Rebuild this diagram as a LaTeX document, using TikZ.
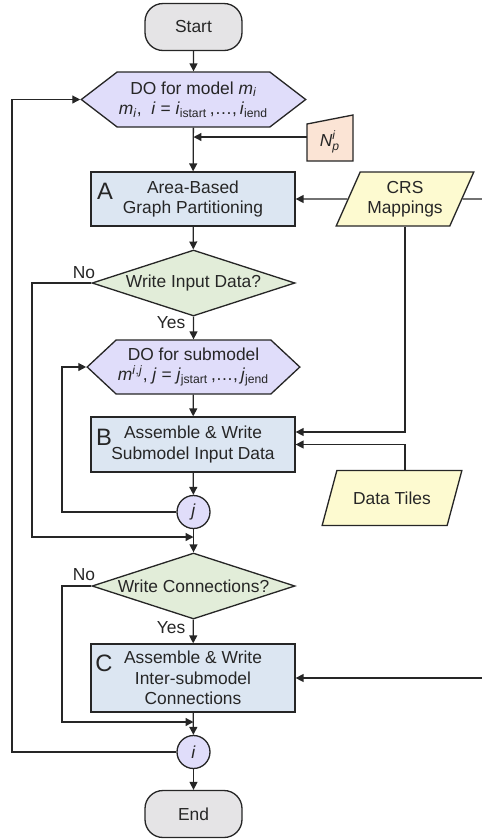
\documentclass[tikz,border=0pt]{standalone}
\usepackage{amsmath}
\usepackage{fontspec}
\setmainfont{Liberation Sans}
\usepackage{tikz}
\usetikzlibrary{positioning,calc}
\usetikzlibrary{arrows.meta,shapes.geometric,shapes.misc,shapes.symbols}

\definecolor{termgray}{RGB}{229,228,230}
\definecolor{loopviolet}{RGB}{224,221,250}
\definecolor{procblue}{RGB}{220,230,242}
\definecolor{decgreen}{RGB}{226,237,217}
\definecolor{datayellow}{RGB}{253,250,208}
\definecolor{inpeach}{RGB}{251,228,213}
\definecolor{edge}{RGB}{38,38,38}

\begin{document}
\begin{tikzpicture}[x=0.02cm, y=-0.02cm,
  every node/.style={font=\fontsize{9.9}{11.6}\selectfont, text=edge},
  line/.style={line width=0.75pt, draw=edge},
  arr/.style={line, -{Triangle[length=4.5pt,width=4.5pt]}},
  term/.style={rectangle, rounded corners=0.36cm, line, fill=termgray, minimum width=1.94cm, minimum height=0.94cm},
  loopbox/.style={signal, signal to=west and east, line, fill=loopviolet, minimum width=4.06cm, align=center, inner sep=1pt},
  procbox/.style={rectangle, line, fill=procblue, minimum width=4.08cm, align=center},
  decision/.style={diamond, aspect=3, line, fill=decgreen, minimum width=4.06cm, minimum height=1.32cm, inner sep=0pt},
  datain/.style={trapezium, trapezium left angle=64, trapezium right angle=116, trapezium stretches=true, line, fill=datayellow, align=center},
  loopend/.style={circle, line, fill=loopviolet, minimum size=0.66cm, inner sep=0pt},
  tag/.style={font=\fontsize{13.5}{14}\selectfont}]
\useasboundingbox (0,0) rectangle (482,840);

% main column
\node[term] (start) at (193.5,27) {Start};
\node[loopbox, minimum height=1.1cm, signal pointer angle=75] (loopi) at (193.5,99.5)
  {DO for model \textit{m}$_{\textit{i}}$\\
   \textit{m}$_{\textit{i}}$,\ \ \textit{i} = \textit{i}$_{\text{istart}}$\,,\ldots,\,\textit{i}$_{\text{iend}}$};
\node[procbox, minimum height=1.08cm] (boxA) at (193,199) {Area-Based\\Graph Partitioning};
\node[tag] (labA) at (105,191) {A};
\node[decision] (qin) at (193.5,283) {Write Input Data?};
\node[loopbox, minimum height=1.08cm, signal pointer angle=86] (loopj) at (193.5,367)
  {DO for submodel\\
   \textit{m}$^{\textit{i},\textit{j}}$, \textit{j} = \textit{j}$_{\text{jstart}}$\,,\ldots,\,\textit{j}$_{\text{jend}}$};
\node[procbox, minimum height=1.1cm] (boxB) at (193,444.5) {Assemble \& Write\\Submodel Input Data};
\node[tag] (labB) at (104,437) {B};
\node[loopend] (endj) at (193.5,512) {\textit{j}};
\node[decision] (qcon) at (193.5,586) {Write Connections?};
\node[procbox, minimum height=1.36cm] (boxC) at (193,678) {Assemble \& Write\\Inter-submodel\\Connections};
\node[tag] (labC) at (104,663) {C};
\node[loopend] (endi) at (193.5,752) {\textit{i}};
\node[term] (stop) at (193.5,814) {End};

% inputs on the right
\filldraw[line, fill=inpeach] (307,161) -- (353,161) -- (353,115) -- (307,124) -- cycle;
\node[minimum width=0.92cm] (np) at (330,142) {\textit{N}$^{\textit{i}}_{\textit{p}}$};
\node[datain, minimum width=2.76cm, minimum height=1.08cm] (crs) at (405,199) {CRS\\Mappings};
\node[datain, minimum width=2.8cm, minimum height=1.1cm] (tiles) at (392,498) {Data Tiles};
\coordinate (edgeA) at (482,199);
\coordinate (edgeC) at (482,678);

% yes / no
\node (noin) at (84,273) {No};
\node (yesin) at (171,323) {Yes};
\node (nocon) at (84,575) {No};
\node (yescon) at (171,628) {Yes};

% flow
\draw[arr] (start) -- (loopi);
\draw[arr] (loopi) -- (boxA);
\draw[arr] ([yshift=0.1cm]np.west) -- ([yshift=0.1cm]np.west -| loopi.south);
\draw[arr] (crs.west) -- (boxA.east);
\draw[line] (crs.east) -- (edgeA);
\draw[arr] (boxA) -- (qin);
\draw[arr] (qin) -- (loopj);
\draw[arr] (loopj) -- (boxB);
\draw[arr] (crs.south) |- ([yshift=0.25cm]boxB.east);
\draw[arr] ([xshift=0.26cm]tiles.north) |- (boxB.east);
\draw[arr] (boxB) -- (endj);
\coordinate (backj) at (62,367);
\draw[arr] (endj.west) -| (backj) -- (loopj.west);
\coordinate (skipin) at (32,537);
\draw[arr] (qin.west) -| (skipin) -- (skipin -| endj.south);
\draw[arr] (endj) -- (qcon);
\draw[arr] (qcon) -- (boxC);
\draw[arr] (edgeC) -- (boxC.east);
\coordinate (skipcon) at (62,722);
\draw[arr] (qcon.west) -| (skipcon) -- (skipcon -| endi.north);
\draw[arr] (boxC) -- (endi);
\coordinate (backi) at (12,99.5);
\draw[arr] (endi.west) -| (backi) -- (loopi.west);
\draw[arr] (endi) -- (stop);
\end{tikzpicture}
\end{document}
